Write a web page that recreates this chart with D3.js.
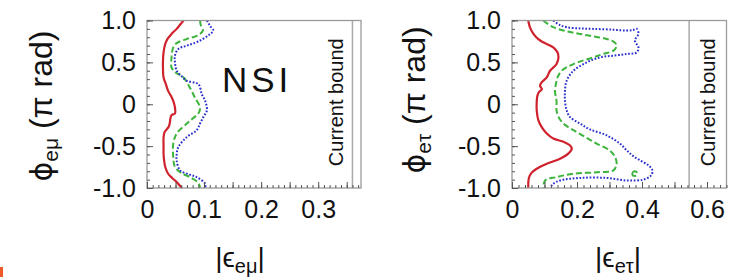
<!DOCTYPE html>
<html>
<head>
<meta charset="utf-8">
<script src="https://cdn.jsdelivr.net/npm/d3@7"></script>
<style>
  html, body { margin: 0; padding: 0; background: #fff; }
  svg { display: block; font-family: "Liberation Sans", Arial, sans-serif; }
</style>
</head>
<body>
<svg id="chart" width="751" height="280"></svg>
<script>
// ---------- data: [|epsilon|, phi/pi] ----------
const emuRed = [[0.064,1.0],[0.058,0.95],[0.052,0.90],[0.043,0.84],[0.036,0.78],[0.032,0.72],[0.029,0.62],[0.028,0.52],[0.028,0.42],[0.029,0.32],[0.033,0.24],[0.037,0.16],[0.042,0.10],[0.046,0.04],[0.049,-0.04],[0.049,-0.11],[0.043,-0.13],[0.041,-0.17],[0.040,-0.22],[0.038,-0.27],[0.031,-0.33],[0.029,-0.40],[0.029,-0.50],[0.029,-0.59],[0.030,-0.67],[0.032,-0.75],[0.037,-0.83],[0.044,-0.88],[0.052,-0.93],[0.061,-1.0]];
const emuGreen = [[0.093,1.0],[0.094,0.95],[0.098,0.88],[0.088,0.82],[0.070,0.78],[0.052,0.73],[0.046,0.68],[0.043,0.56],[0.043,0.44],[0.050,0.38],[0.064,0.32],[0.075,0.20],[0.084,0.08],[0.093,-0.04],[0.090,-0.11],[0.080,-0.17],[0.070,-0.23],[0.052,-0.35],[0.046,-0.47],[0.046,-0.63],[0.049,-0.75],[0.060,-0.82],[0.075,-0.87],[0.090,-0.94],[0.093,-1.0]];
const emuBlue = [[0.105,1.0],[0.110,0.94],[0.116,0.88],[0.111,0.84],[0.090,0.75],[0.070,0.70],[0.055,0.66],[0.049,0.58],[0.049,0.50],[0.052,0.40],[0.060,0.34],[0.070,0.28],[0.090,0.24],[0.096,0.12],[0.102,0.04],[0.105,-0.07],[0.099,-0.15],[0.093,-0.23],[0.087,-0.31],[0.070,-0.39],[0.055,-0.51],[0.052,-0.60],[0.052,-0.67],[0.058,-0.79],[0.075,-0.84],[0.087,-0.87],[0.102,-0.95],[0.102,-1.0]];

const etRed = [[0.050,1.0],[0.055,0.92],[0.066,0.84],[0.080,0.78],[0.096,0.74],[0.127,0.68],[0.140,0.62],[0.143,0.56],[0.137,0.48],[0.117,0.40],[0.107,0.32],[0.091,0.26],[0.086,0.22],[0.092,0.18],[0.084,0.15],[0.078,0.10],[0.076,0.02],[0.076,-0.07],[0.081,-0.19],[0.091,-0.27],[0.107,-0.35],[0.127,-0.41],[0.160,-0.45],[0.178,-0.49],[0.184,-0.53],[0.173,-0.59],[0.148,-0.65],[0.107,-0.71],[0.076,-0.77],[0.060,-0.82],[0.052,-0.88],[0.050,-1.0]];
const etGreen = [[0.096,1.0],[0.127,0.92],[0.170,0.87],[0.209,0.84],[0.250,0.81],[0.291,0.78],[0.315,0.74],[0.322,0.70],[0.312,0.64],[0.280,0.60],[0.250,0.56],[0.189,0.48],[0.153,0.40],[0.140,0.32],[0.135,0.24],[0.132,0.16],[0.137,0.04],[0.137,-0.07],[0.143,-0.15],[0.158,-0.23],[0.189,-0.31],[0.225,-0.39],[0.260,-0.47],[0.300,-0.55],[0.317,-0.63],[0.322,-0.71],[0.312,-0.79],[0.271,-0.81],[0.189,-0.83],[0.137,-0.87],[0.102,-0.91],[0.096,-1.0]];
const etGreenIsland = [[0.370,-0.82],[0.377,-0.80],[0.385,-0.82],[0.383,-0.85],[0.372,-0.85],[0.370,-0.82]];
const etBlue = [[0.127,1.0],[0.145,0.95],[0.168,0.92],[0.210,0.905],[0.250,0.90],[0.312,0.89],[0.353,0.88],[0.372,0.885],[0.384,0.90],[0.389,0.84],[0.378,0.76],[0.389,0.68],[0.384,0.62],[0.353,0.60],[0.312,0.58],[0.271,0.56],[0.230,0.50],[0.189,0.40],[0.168,0.28],[0.163,0.16],[0.163,0.04],[0.168,-0.07],[0.178,-0.15],[0.209,-0.23],[0.240,-0.30],[0.291,-0.37],[0.332,-0.47],[0.353,-0.55],[0.370,-0.61],[0.394,-0.67],[0.420,-0.73],[0.432,-0.79],[0.428,-0.85],[0.404,-0.90],[0.353,-0.91],[0.291,-0.88],[0.209,-0.88],[0.148,-0.91],[0.127,-0.95],[0.117,-1.0]];

const yTickValues = [-1, -0.5, 0, 0.5, 1];
const yTickLabels = ["-1.0", "-0.5", "0", "0.5", "1.0"];
const emuXTicks = [0, 0.1, 0.2, 0.3];
const emuXLabels = ["0", "0.1", "0.2", "0.3"];
const etXTicks = [0, 0.2, 0.4, 0.6];
const etXLabels = ["0", "0.2", "0.4", "0.6"];
const emuBound = 0.36;
const etBound = 0.545;

// ---------- drawing ----------
const svg = d3.select("#chart");
svg.append("rect").attr("width", 751).attr("height", 280).attr("fill", "#fff");

const styles = {
  red:   {stroke: "#d0222c", width: 2.2, dash: null},
  green: {stroke: "#3cb43c", width: 2.0, dash: "6,3"},
  blue:  {stroke: "#2a2fcc", width: 2.0, dash: "1.7,1.7"}
};

function panel(cfg) {
  const x = d3.scaleLinear().domain(cfg.xDomain).range([cfg.left, cfg.right]);
  const y = d3.scaleLinear().domain([-1, 1]).range([cfg.bottom, cfg.top]);
  const g = svg.append("g");

  // curves
  const line = d3.line().x(d => x(d[0])).y(d => y(d[1])).curve(d3.curveCatmullRom.alpha(0.5));
  cfg.curves.forEach(c => {
    const s = styles[c.style];
    g.append("path").datum(c.data).attr("d", line)
      .attr("fill", "none").attr("stroke", s.stroke).attr("stroke-width", s.width)
      .attr("stroke-dasharray", s.dash).attr("stroke-linejoin", "round");
  });

  // current bound line
  g.append("line").attr("x1", x(cfg.bound)).attr("x2", x(cfg.bound))
    .attr("y1", cfg.top).attr("y2", cfg.bottom).attr("stroke", "#a8a8a8").attr("stroke-width", 1.5);
  g.append("text")
    .attr("transform", `translate(${x(cfg.bound) + cfg.boundTextDx},${(cfg.top + cfg.bottom) / 2 - 2}) rotate(-90)`)
    .attr("text-anchor", "middle").attr("font-size", 20).attr("fill", "#111")
    .text("Current bound");

  // frame
  g.append("rect").attr("x", cfg.left).attr("y", cfg.top)
    .attr("width", cfg.right - cfg.left).attr("height", cfg.bottom - cfg.top)
    .attr("fill", "none").attr("stroke", "#9a9a9a").attr("stroke-width", 1.3);

  // inner ticks: left
  const yMinor = d3.range(-1, 1.0001, 0.1).map(v => +v.toFixed(2));
  g.append("g").attr("transform", `translate(${cfg.left},0)`)
    .call(d3.axisRight(y).tickValues(yMinor).tickSize(3).tickFormat(""))
    .call(a => a.select(".domain").remove())
    .call(a => a.selectAll("line").attr("stroke", "#555"));
  g.append("g").attr("transform", `translate(${cfg.left},0)`)
    .call(d3.axisRight(y).tickValues(yTickValues).tickSize(6).tickFormat(""))
    .call(a => a.select(".domain").remove())
    .call(a => a.selectAll("line").attr("stroke", "#555"));
  // inner ticks: bottom
  const xMinor = d3.range(0, cfg.xDomain[1] + 1e-9, cfg.minorStep).map(v => +v.toFixed(3));
  const xMajor = d3.range(0, cfg.xDomain[1] + 1e-9, cfg.majorStep).map(v => +v.toFixed(3));
  g.append("g").attr("transform", `translate(0,${cfg.bottom})`)
    .call(d3.axisTop(x).tickValues(xMinor).tickSize(3).tickFormat(""))
    .call(a => a.select(".domain").remove())
    .call(a => a.selectAll("line").attr("stroke", "#555"));
  g.append("g").attr("transform", `translate(0,${cfg.bottom})`)
    .call(d3.axisTop(x).tickValues(xMajor).tickSize(6).tickFormat(""))
    .call(a => a.select(".domain").remove())
    .call(a => a.selectAll("line").attr("stroke", "#555"));

  // tick labels
  g.append("g").attr("transform", `translate(${cfg.left},0)`)
    .call(d3.axisLeft(y).tickValues(yTickValues).tickSize(0).tickPadding(11)
      .tickFormat((d, i) => yTickLabels[i]))
    .call(a => a.select(".domain").remove())
    .call(a => a.selectAll("text").attr("font-size", 25).attr("fill", "#111")
      .attr("font-family", "Liberation Sans, Arial, sans-serif"));
  g.append("g").attr("transform", `translate(0,${cfg.bottom})`)
    .call(d3.axisBottom(x).tickValues(cfg.xTicks).tickSize(0).tickPadding(12)
      .tickFormat((d, i) => cfg.xLabels[i]))
    .call(a => a.select(".domain").remove())
    .call(a => a.selectAll("text").attr("font-size", 25).attr("fill", "#111")
      .attr("font-family", "Liberation Sans, Arial, sans-serif"));

  // x title
  const xt = g.append("text").attr("x", cfg.xTitleX).attr("y", 267)
    .attr("text-anchor", "middle").attr("font-size", 28).attr("fill", "#111");
  xt.append("tspan").text("|\u03F5");
  xt.append("tspan").attr("font-size", 20).attr("dy", 6).text(cfg.sub);
  xt.append("tspan").attr("dy", -6).text("|");

  // y title
  const yt = g.append("text")
    .attr("transform", `translate(${cfg.yTitleX},${cfg.yTitleY}) rotate(-90)`)
    .attr("text-anchor", "middle").attr("font-size", 32).attr("fill", "#111");
  yt.append("tspan").attr("font-family", "DejaVu Sans, sans-serif").attr("font-size", 30).text("\u03D5");
  yt.append("tspan").attr("font-size", 21).attr("dy", 6).text(cfg.sub);
  yt.append("tspan").attr("dy", -6).text(" (\u03C0 rad)");
  return {x, y, g};
}

const p1 = panel({
  left: 147, right: 361, top: 20.5, bottom: 188,
  xDomain: [0, 0.375], minorStep: 0.01, majorStep: 0.05,
  xTicks: emuXTicks, xLabels: emuXLabels, bound: emuBound, boundTextDx: -9, sub: "e\u03BC",
  xTitleX: 240, yTitleX: 52, yTitleY: 106,
  curves: [{data: emuRed, style: "red"}, {data: emuGreen, style: "green"}, {data: emuBlue, style: "blue"}]
});
p1.g.append("text").attr("x", 222).attr("y", 92).attr("font-size", 35)
  .attr("letter-spacing", 4).attr("fill", "#111").text("NSI");

const p2 = panel({
  left: 512, right: 726.5, top: 20.5, bottom: 188,
  xDomain: [0, 0.66], minorStep: 0.02, majorStep: 0.1,
  xTicks: etXTicks, xLabels: etXLabels, bound: etBound, boundTextDx: 26, sub: "e\u03C4",
  xTitleX: 618, yTitleX: 425, yTitleY: 100,
  curves: [{data: etRed, style: "red"}, {data: etGreen, style: "green"},
           {data: etGreenIsland, style: "green"}, {data: etBlue, style: "blue"}]
});

// small orange mark at the lower-left corner of the slide
svg.append("path").attr("d", "M0,267 L3,267 L3,277 L0,277 Z").attr("fill", "#f05a28");
</script>
</body>
</html>
